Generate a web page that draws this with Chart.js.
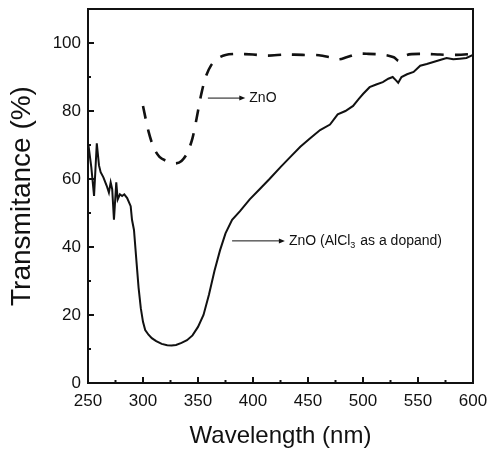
<!DOCTYPE html>
<html>
<head>
<meta charset="utf-8">
<script src="https://cdn.jsdelivr.net/npm/chart.js@4"></script>
<style>
  html, body { margin: 0; padding: 0; background: #fff; }
  canvas { display: block; }
</style>
</head>
<body>
<canvas id="chart" width="489" height="453"></canvas>
<script>
// ZnO film (dashed)
const znoWavelength = [300, 305, 310, 315, 320, 325, 330, 335, 340, 345, 350, 353, 357, 362, 368, 375, 385, 400, 413, 430, 445, 460, 470, 478, 485, 495, 505, 520, 528, 533, 540, 555, 570, 585, 600];
const znoTransmittance = [81.5, 74, 69, 66.5, 65.5, 65, 64.6, 65.3, 67.5, 72, 80, 85, 90, 93.5, 95.5, 96.5, 96.8, 96.6, 96.3, 96.6, 96.5, 96.4, 95.8, 95.2, 95.8, 96.8, 96.8, 96.5, 95.8, 94.7, 96.5, 96.8, 96.6, 96.5, 96.8];

// ZnO with AlCl3 dopant (solid)
const dopedWavelength = [250, 251, 253, 255.5, 258, 260, 261.5, 264, 267, 269, 270.6, 272, 273.6, 275.7, 277, 279, 281, 283, 285.6, 288.8, 290, 291.8, 294, 296, 298, 300, 302, 305, 308, 312, 317, 322, 326, 330, 335, 340, 345, 350, 355, 360, 365, 370, 375, 381, 388, 397, 406, 415, 425, 434, 443, 452, 461, 470, 477, 484, 491, 496, 500, 506, 512, 518, 523, 527, 530, 532, 535, 540, 546, 552, 558, 564, 570, 576, 582, 588, 594, 600];
const dopedTransmittance = [67, 68.5, 63.5, 55, 70.5, 64, 62, 60.5, 58, 56, 59, 57, 48, 59, 54, 55.5, 55, 55.5, 54.4, 52, 48, 45, 36, 28, 22, 18, 15.6, 14.2, 13.2, 12.3, 11.5, 11.1, 11, 11.2, 11.8, 12.6, 14, 16.5, 20, 26, 33, 39, 44, 48, 50.5, 54, 57, 60, 63.5, 66.5, 69.5, 72, 74.4, 76, 79, 80, 81.5, 83.5, 85, 87, 87.8, 88.5, 89.5, 90, 89, 88.3, 90, 90.8, 91.5, 93.3, 93.8, 94.4, 95, 95.6, 95.2, 95.4, 95.6, 96.5];

const xTickStep = 50;
const yTickStep = 20;

function toPoints(xs, ys) {
    return xs.map((x, i) => ({ x: x, y: ys[i] }));
}

// Cadre + graduations vers l'intérieur + annotations fléchées
const frameAndNotes = {
    id: 'frameAndNotes',
    afterDraw(chart) {
        const ctx = chart.ctx;
        const a = chart.chartArea;
        const x = chart.scales.x;
        const y = chart.scales.y;
        ctx.save();
        ctx.strokeStyle = '#111';
        ctx.lineWidth = 2;
        ctx.strokeRect(a.left, a.top, a.right - a.left, a.bottom - a.top);

        ctx.lineWidth = 2;
        for (let v = x.min; v <= x.max; v += xTickStep / 2) {
            const px = x.getPixelForValue(v);
            const len = (v - x.min) % xTickStep === 0 ? 6 : 3;
            ctx.beginPath();
            ctx.moveTo(px, a.bottom);
            ctx.lineTo(px, a.bottom - len);
            ctx.stroke();
        }
        for (let v = 0; v <= 100; v += yTickStep / 2) {
            const py = y.getPixelForValue(v);
            const len = v % yTickStep === 0 ? 6 : 3;
            ctx.beginPath();
            ctx.moveTo(a.left, py);
            ctx.lineTo(a.left + len, py);
            ctx.stroke();
        }

        function arrow(x0, x1, yv) {
            const p0 = x.getPixelForValue(x0);
            const p1 = x.getPixelForValue(x1);
            const py = y.getPixelForValue(yv);
            ctx.lineWidth = 1;
            ctx.beginPath();
            ctx.moveTo(p0, py);
            ctx.lineTo(p1 - 4, py);
            ctx.stroke();
            ctx.beginPath();
            ctx.moveTo(p1, py);
            ctx.lineTo(p1 - 6, py - 2.5);
            ctx.lineTo(p1 - 6, py + 2.5);
            ctx.closePath();
            ctx.fill();
            return { x: p1 + 4, y: py };
        }

        ctx.fillStyle = '#111';
        ctx.textBaseline = 'middle';
        ctx.textAlign = 'left';
        ctx.font = '14px "Liberation Sans", Arial, sans-serif';

        let p = arrow(359, 393, 83.8);
        ctx.fillText('ZnO', p.x, p.y);

        p = arrow(381, 429, 41.8);
        let tx = p.x;
        const part1 = 'ZnO (AlCl';
        ctx.fillText(part1, tx, p.y);
        tx += ctx.measureText(part1).width;
        ctx.font = '9px "Liberation Sans", Arial, sans-serif';
        ctx.fillText('3', tx, p.y + 5);
        tx += ctx.measureText('3').width + 1;
        ctx.font = '14px "Liberation Sans", Arial, sans-serif';
        ctx.fillText(' as a dopand)', tx, p.y);
        ctx.restore();
    }
};

const ctx = document.getElementById('chart');

new Chart(ctx, {
    type: 'line',
    data: {
        datasets: [{
            label: 'ZnO',
            data: toPoints(znoWavelength, znoTransmittance),
            borderColor: '#111',
            borderWidth: 2.6,
            borderDash: [13, 11],
            pointRadius: 0,
            tension: 0.3,
            fill: false
        }, {
            label: 'ZnO (AlCl3 as a dopand)',
            data: toPoints(dopedWavelength, dopedTransmittance),
            borderColor: '#111',
            borderWidth: 2,
            pointRadius: 0,
            tension: 0,
            fill: false
        }]
    },
    options: {
        responsive: false,
        devicePixelRatio: 1,
        animation: false,
        layout: {
            padding: { top: 9, right: 16, left: 0, bottom: 0 }
        },
        plugins: {
            legend: { display: false },
            tooltip: { enabled: false }
        },
        scales: {
            x: {
                type: 'linear',
                min: 250,
                max: 600,
                grid: { display: false, drawTicks: false },
                border: { display: false },
                ticks: {
                    stepSize: xTickStep,
                    padding: 8,
                    color: '#111',
                    font: { family: '"Liberation Sans", Arial, sans-serif', size: 17 }
                },
                title: {
                    display: true,
                    text: 'Wavelength (nm)',
                    color: '#111',
                    padding: { bottom: 2, top: 0 },
                    font: { family: '"Liberation Sans", Arial, sans-serif', size: 24 }
                },
                afterFit(scale) {
                    scale.height = 70;
                    scale.paddingLeft = 0;
                    scale.paddingRight = 0;
                }
            },
            y: {
                min: 0,
                max: 110,
                grid: { display: false, drawTicks: false },
                border: { display: false },
                ticks: {
                    stepSize: yTickStep,
                    padding: 7,
                    color: '#111',
                    font: { family: '"Liberation Sans", Arial, sans-serif', size: 17 }
                },
                afterBuildTicks(scale) {
                    scale.ticks = scale.ticks.filter(t => t.value <= 100);
                },
                title: {
                    display: true,
                    text: 'Transmitance (%)',
                    color: '#111',
                    padding: { top: 5, bottom: 0 },
                    font: { family: '"Liberation Sans", Arial, sans-serif', size: 28 }
                },
                afterFit(scale) {
                    scale.width = 88;
                    scale.paddingTop = 0;
                    scale.paddingBottom = 0;
                }
            }
        }
    },
    plugins: [frameAndNotes]
});
</script>
</body>
</html>
